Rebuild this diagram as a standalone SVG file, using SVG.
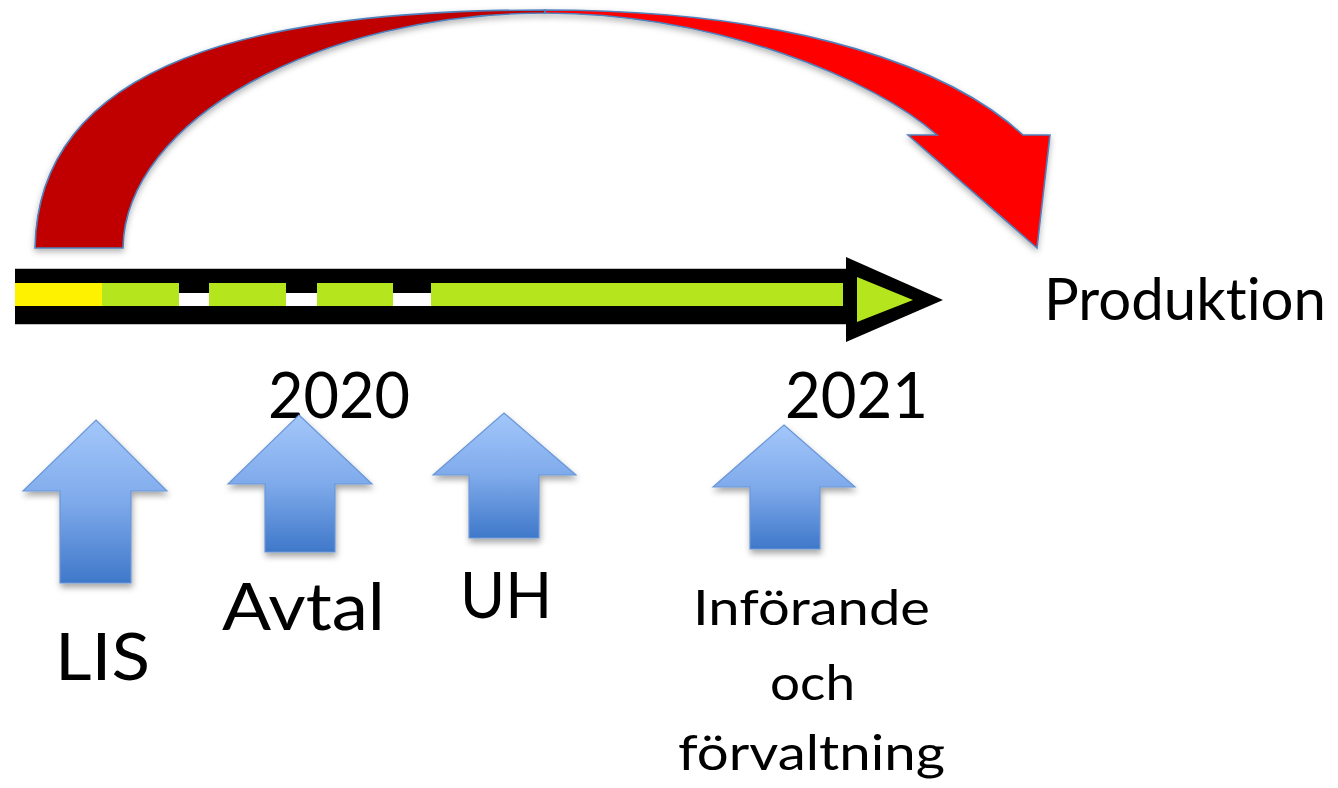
<svg xmlns="http://www.w3.org/2000/svg" width="1338" height="788" viewBox="0 0 1338 788">
  <style>
    .lbl { font-family: Lato, "Open Sans", "Liberation Sans", sans-serif; fill: #000; font-variant-ligatures: none; font-feature-settings: "liga" 0; }
    .up { fill: url(#blueGrad); stroke: #6A97D8; stroke-width: 1.2; filter: url(#shadow); }
    .arc { stroke: #4F81BD; stroke-width: 1.6; stroke-linejoin: miter; filter: url(#shadow2); }
  </style>
  <defs>
    <linearGradient id="blueGrad" x1="0" y1="0" x2="0" y2="1">
      <stop offset="0" stop-color="#A3C7FA"/>
      <stop offset="0.5" stop-color="#7FAAEB"/>
      <stop offset="1" stop-color="#3F78C9"/>
    </linearGradient>
    <filter id="shadow" x="-20%" y="-20%" width="140%" height="140%">
      <feDropShadow dx="1" dy="4" stdDeviation="3" flood-color="#000" flood-opacity="0.35"/>
    </filter>
    <filter id="shadow2" x="-10%" y="-10%" width="120%" height="130%">
      <feDropShadow dx="0" dy="3" stdDeviation="3" flood-color="#000" flood-opacity="0.3"/>
    </filter>
  </defs>
  <rect width="1338" height="788" fill="#fff"/>

  <g id="connectors">
    <g id="red-arc">
      <path class="arc" fill="#C00000" d="M35,248 C38,60 260,10 545,10 L545,13 C320,13 125,120 123,248 Z"/>
      <path class="arc" fill="#FF0000" d="M545,10 C805,10 955,72 1023,135 L1050,135 L1037,248 L908,135 L937,135 C875,80 720,14 545,13 Z"/>
    </g>
    <g id="timeline">
      <rect x="15" y="268" width="835" height="57" fill="#9a9a9a" opacity="0.6"/>
      <rect x="15" y="269" width="835" height="55" fill="#000"/>
      <polygon points="846,257 943,300 846,342" fill="#000"/>
      <rect x="15" y="283" width="87" height="23" fill="#FFF200"/>
      <rect x="102" y="283" width="77" height="23" fill="#B5E61D"/>
      <rect x="179" y="293" width="30" height="13" fill="#fff"/>
      <rect x="209" y="283" width="77" height="23" fill="#B5E61D"/>
      <rect x="286" y="293" width="31" height="13" fill="#fff"/>
      <rect x="317" y="283" width="76" height="23" fill="#B5E61D"/>
      <rect x="393" y="293" width="38" height="13" fill="#fff"/>
      <rect x="431" y="283" width="412" height="23" fill="#B5E61D"/>
      <polygon points="857,277 913,300 857,322" fill="#B5E61D"/>
    </g>
  </g>

  <g id="produktion">
    <text class="lbl" x="1044" y="320" font-size="58" textLength="282" lengthAdjust="spacingAndGlyphs">Produktion</text>
  </g>
  <g id="year-2020">
    <text class="lbl" x="268" y="418" font-size="64" textLength="142" lengthAdjust="spacingAndGlyphs">2020</text>
  </g>
  <g id="year-2021">
    <text class="lbl" x="785" y="418" font-size="64" textLength="143" lengthAdjust="spacingAndGlyphs">2021</text>
  </g>

  <g id="node-lis">
    <path class="up" d="M96,420 L167,491 L131,491 L131,583 L60,583 L60,491 L23,491 Z"/>
    <text class="lbl" x="55" y="680" font-size="66" textLength="95" lengthAdjust="spacingAndGlyphs">LIS</text>
  </g>
  <g id="node-avtal">
    <path class="up" d="M299,415 L372,484 L335,484 L335,552 L265,552 L265,484 L228,484 Z"/>
    <text class="lbl" x="222" y="630" font-size="66" textLength="163" lengthAdjust="spacingAndGlyphs">Avtal</text>
  </g>
  <g id="node-uh">
    <path class="up" d="M504,413 L576,475 L539,475 L539,538 L469,538 L469,475 L433,475 Z"/>
    <text class="lbl" x="460" y="618" font-size="63" textLength="92" lengthAdjust="spacingAndGlyphs">UH</text>
  </g>
  <g id="node-inforande">
    <path class="up" d="M784,425 L855,487 L820,487 L820,549 L750,549 L750,487 L713,487 Z"/>
    <text class="lbl" x="693" y="625" font-size="49" textLength="237" lengthAdjust="spacingAndGlyphs">Införande</text>
    <text class="lbl" x="770" y="700" font-size="49" textLength="85" lengthAdjust="spacingAndGlyphs">och</text>
    <text class="lbl" x="678" y="770" font-size="49" textLength="267" lengthAdjust="spacingAndGlyphs">förvaltning</text>
  </g>
</svg>
